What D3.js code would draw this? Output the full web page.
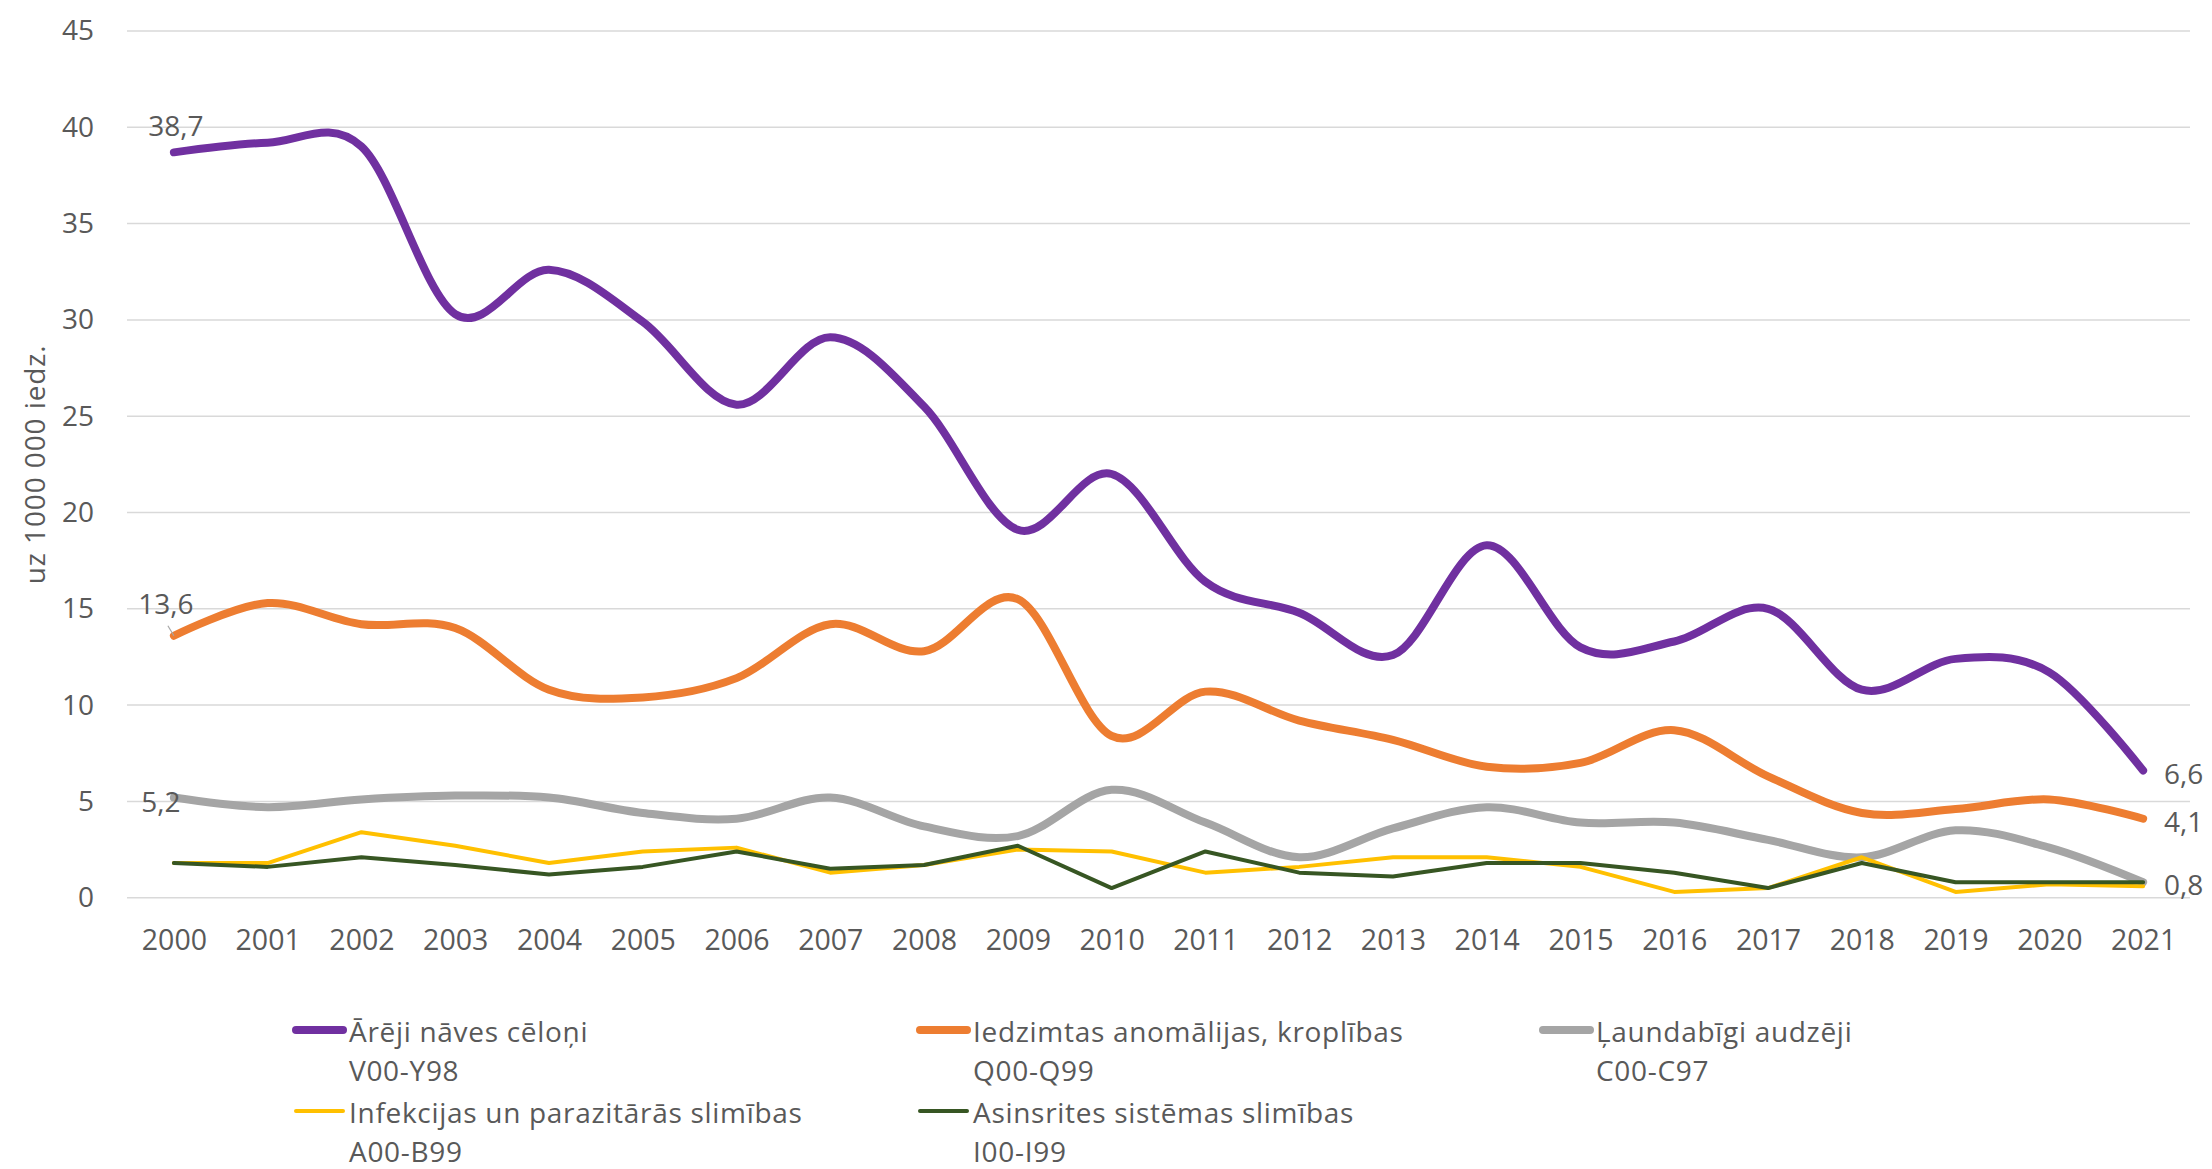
<!DOCTYPE html>
<html>
<head>
<meta charset="utf-8">
<script src="https://cdn.jsdelivr.net/npm/d3@7"></script>
<style>
  html, body { margin: 0; padding: 0; background: #ffffff; }
  svg { display: block; }
  text { font-family: "Open Sans", "Noto Sans", sans-serif; fill: #595959; }
</style>
</head>
<body>
<svg id="chart" width="2212" height="1169"></svg>
<script>
// ---- data ----
const years = ["2000","2001","2002","2003","2004","2005","2006","2007","2008","2009","2010",
               "2011","2012","2013","2014","2015","2016","2017","2018","2019","2020","2021"];
const yTicks = [0, 5, 10, 15, 20, 25, 30, 35, 40, 45];

const seriesNames = ["Ārēji nāves cēloņi", "Iedzimtas anomālijas, kroplības", "Ļaundabīgi audzēji",
                     "Infekcijas un parazitārās slimības", "Asinsrites sistēmas slimības"];
const seriesCodes = ["V00-Y98", "Q00-Q99", "C00-C97", "A00-B99", "I00-I99"];

const external   = [38.7, 39.2, 39.0, 30.3, 32.6, 29.9, 25.6, 29.1, 25.5, 19.1, 22.0,
                    16.4, 14.8, 12.6, 18.3, 13.0, 13.3, 15.0, 10.8, 12.4, 11.7, 6.6];
const congenital = [13.6, 15.3, 14.2, 14.0, 10.8, 10.4, 11.4, 14.2, 12.8, 15.5, 8.4,
                    10.7, 9.2, 8.2, 6.8, 7.0, 8.7, 6.3, 4.4, 4.6, 5.1, 4.1];
const neoplasms  = [5.2, 4.7, 5.1, 5.3, 5.2, 4.4, 4.1, 5.2, 3.7, 3.2, 5.6,
                    3.9, 2.1, 3.6, 4.7, 3.9, 3.9, 3.0, 2.1, 3.5, 2.6, 0.8];
const infectious = [1.8, 1.8, 3.4, 2.7, 1.8, 2.4, 2.6, 1.3, 1.7, 2.5, 2.4,
                    1.3, 1.6, 2.1, 2.1, 1.6, 0.3, 0.5, 2.1, 0.3, 0.7, 0.6];
const circulatory= [1.8, 1.6, 2.1, 1.7, 1.2, 1.6, 2.4, 1.5, 1.7, 2.7, 0.5,
                    2.4, 1.3, 1.1, 1.8, 1.8, 1.3, 0.5, 1.8, 0.8, 0.8, 0.8];

const seriesValues = [external, congenital, neoplasms, infectious, circulatory];
const seriesColors = ["#7030A0", "#ED7D31", "#A5A5A5", "#FFC000", "#375623"];
const seriesWidths = [8, 8, 8, 4, 4];
const seriesSmooth = [true, true, true, false, false];

const yTitle = "uz 1000 000 iedz.";

// ---- layout ----
const svg = d3.select("#chart");
const plot = { left: 127, right: 2190, top: 31, bottom: 897.7 };

const x = d3.scalePoint().domain(years).range([plot.left, plot.right]).padding(0.5);
const y = d3.scaleLinear().domain([0, 45]).range([plot.bottom, plot.top]);

const fmt = v => String(v).replace(".", ",");

// gridlines
svg.append("g").selectAll("line").data(yTicks).join("line")
  .attr("x1", plot.left).attr("x2", plot.right)
  .attr("y1", d => y(d)).attr("y2", d => y(d))
  .attr("stroke", "#D9D9D9").attr("stroke-width", 1.5);

// y axis
const yAxis = svg.append("g").attr("transform", `translate(${plot.left},0)`)
  .call(d3.axisLeft(y).tickValues(yTicks).tickSize(0).tickPadding(33));
yAxis.select(".domain").remove();
yAxis.selectAll("text").attr("font-size", 28).attr("fill", "#595959")
  .style("font-family", '"Open Sans", sans-serif');

// x axis
const xAxis = svg.append("g").attr("transform", `translate(0,${plot.bottom})`)
  .call(d3.axisBottom(x).tickSize(0).tickPadding(32));
xAxis.select(".domain").remove();
xAxis.selectAll("text").attr("font-size", 28.5).attr("fill", "#595959")
  .style("font-family", '"Open Sans", sans-serif');

// y title
svg.append("text")
  .attr("transform", `translate(45,${(plot.top + plot.bottom) / 2}) rotate(-90)`)
  .attr("text-anchor", "middle")
  .attr("font-size", 28)
  .attr("letter-spacing", 0.9)
  .text(yTitle);

// lines
const lineSmooth = d3.line().x((d, i) => x(years[i])).y(d => y(d)).curve(d3.curveCardinal.tension(0));
const lineStraight = d3.line().x((d, i) => x(years[i])).y(d => y(d)).curve(d3.curveLinear);

seriesValues.forEach((vals, k) => {
  svg.append("path")
    .attr("d", (seriesSmooth[k] ? lineSmooth : lineStraight)(vals))
    .attr("fill", "none")
    .attr("stroke", seriesColors[k])
    .attr("stroke-width", seriesWidths[k])
    .attr("stroke-linecap", "round")
    .attr("stroke-linejoin", "round");
});

// data labels
const first = years[0], last = years[years.length - 1];
const x0 = x(first), xN = x(last);

// leader line for 13,6
svg.append("line")
  .attr("x1", x0 - 6).attr("y1", y(congenital[0]) - 10)
  .attr("x2", x0).attr("y2", y(congenital[0]))
  .attr("stroke", "#A6A6A6").attr("stroke-width", 1.2);

const labelsLeft = [
  { v: external[0],   dx: 2,   dy: -27 },
  { v: congenital[0], dx: -8,  dy: -33 },
  { v: neoplasms[0],  dx: -13, dy: 3 }
];
svg.append("g").selectAll("text").data(labelsLeft).join("text")
  .attr("x", d => x0 + d.dx)
  .attr("y", d => y(d.v) + d.dy)
  .attr("text-anchor", "middle")
  .attr("dominant-baseline", "central")
  .attr("font-size", 28)
  .text(d => fmt(d.v));

const labelsRight = [external[21], congenital[21], neoplasms[21]];
svg.append("g").selectAll("text").data(labelsRight).join("text")
  .attr("x", xN + 21)
  .attr("y", d => y(d) + 2)
  .attr("text-anchor", "start")
  .attr("dominant-baseline", "central")
  .attr("font-size", 28)
  .text(d => fmt(d));

// legend
const legCols = [293, 917, 1540];
const legRows = [1030, 1111];
const legend = svg.append("g");
seriesNames.forEach((name, k) => {
  const cx = legCols[k % 3];
  const cy = legRows[Math.floor(k / 3)];
  legend.append("line")
    .attr("x1", cx + 3).attr("x2", cx + 50)
    .attr("y1", cy).attr("y2", cy)
    .attr("stroke", seriesColors[k])
    .attr("stroke-width", seriesWidths[k])
    .attr("stroke-linecap", "round");
  legend.append("text")
    .attr("x", cx + 56).attr("y", cy + 12)
    .attr("font-size", 28)
    .attr("letter-spacing", 0.7)
    .text(name);
  legend.append("text")
    .attr("x", cx + 56).attr("y", cy + 51)
    .attr("font-size", 28)
    .attr("letter-spacing", 0.7)
    .text(seriesCodes[k]);
});
</script>
</body>
</html>
